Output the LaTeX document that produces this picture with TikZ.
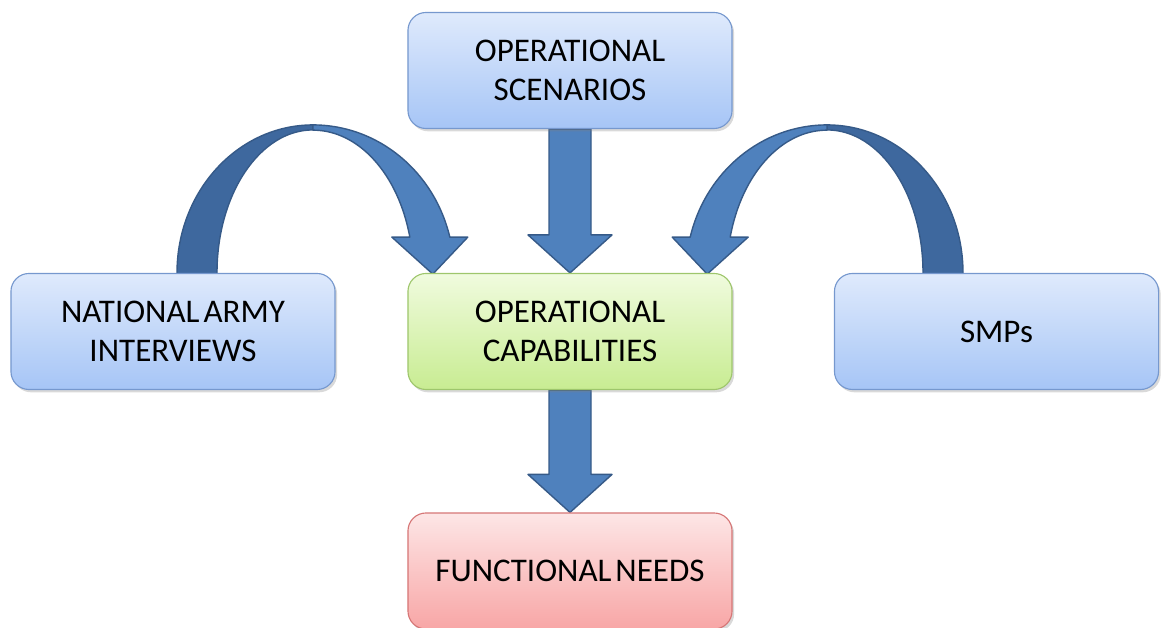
\documentclass[tikz,border=0pt]{standalone}
\usepackage{fontspec}
\setmainfont{Carlito}
\usetikzlibrary{calc, backgrounds, shadows}

\definecolor{blueTop}{RGB}{223,234,252}
\definecolor{blueBot}{RGB}{166,197,246}
\definecolor{blueLine}{RGB}{118,152,206}
\definecolor{greenTop}{RGB}{240,251,222}
\definecolor{greenBot}{RGB}{200,236,146}
\definecolor{greenLine}{RGB}{158,198,108}
\definecolor{redTop}{RGB}{253,230,230}
\definecolor{redBot}{RGB}{248,166,166}
\definecolor{redLine}{RGB}{214,118,118}
\definecolor{arrowFill}{RGB}{79,129,189}
\definecolor{arrowDark}{RGB}{62,104,158}
\definecolor{arrowEdge}{RGB}{54,90,136}

% straight block arrow from the bottom of #1 down to the top of #2
\newcommand{\blockdown}[2]{%
  \draw[arrowline] ($(#1.south)+(-21,0)$) -- ($(#2.north)+(-21,38)$)
    -- ($(#2.north)+(-42,38)$) -- (#2.north) -- ($(#2.north)+(42,38)$)
    -- ($(#2.north)+(21,38)$) -- ($(#1.south)+(21,0)$) -- cycle;}

\begin{document}
\begin{tikzpicture}[x=0.025cm, y=0.025cm,
  box/.style={draw, rounded corners=0.45cm, minimum width=8.1cm, minimum height=2.9cm,
    align=center, inner sep=0pt, line width=0.8pt, font=\fontsize{23.5}{27.5}\selectfont,
    drop shadow={shadow xshift=1.5pt, shadow yshift=-2pt, opacity=0.3}},
  bluebox/.style={box, draw=blueLine, top color=blueTop, bottom color=blueBot},
  greenbox/.style={box, draw=greenLine, top color=greenTop, bottom color=greenBot},
  redbox/.style={box, draw=redLine, top color=redTop, bottom color=redBot},
  arrowline/.style={draw=arrowEdge, line width=1pt, fill=arrowFill, line join=round}]
  \useasboundingbox (0,0) rectangle (1161,628);

  % boxes
  \node[bluebox] (scen) at (570,557.5) {OPERATIONAL\\SCENARIOS};
  \node[bluebox] (army) at (173,296.5) {NATIONAL\hspace{0.12em}ARMY\\INTERVIEWS};
  \node[greenbox] (caps) at (570,296.5) {OPERATIONAL\\CAPABILITIES};
  \node[bluebox] (smps) at (996.5,296.5) {SMPs};
  \node[redbox] (needs) at (570,57) {FUNCTIONAL\hspace{0.12em}NEEDS};

  \begin{scope}[on background layer]
    % straight arrows
    \blockdown{scen}{caps}
    \blockdown{caps}{needs}

    % curved arrow on the left: back half, then front half with head
    \draw[arrowline, fill=arrowDark] ($(army.north)+(4,-8)$) -- ++(0,8)
      arc[start angle=180, end angle=90, x radius=136, y radius=148] -- ++(0,-5)
      arc[start angle=90, end angle=180, x radius=96, y radius=143] -- ++(0,-8) -- cycle;
    \coordinate (ltop) at ($(army.north)+(140,148)$);
    \draw[arrowline] (ltop)
      arc[start angle=90, end angle=14, x radius=141, y radius=148]
      -- ++(18,0) -- ++(-35,-37) -- ++(-41,37) -- ++(18,0)
      arc[start angle=14.6, end angle=90, x radius=100, y radius=143] -- cycle;

    % curved arrow on the right
    \draw[arrowline, fill=arrowDark] ($(smps.north)+(-33.5,-8)$) -- ++(0,8)
      arc[start angle=0, end angle=90, x radius=136, y radius=148] -- ++(0,-5)
      arc[start angle=90, end angle=0, x radius=96, y radius=143] -- ++(0,-8) -- cycle;
    \coordinate (rtop) at ($(smps.north)+(-169.5,148)$);
    \draw[arrowline] (rtop)
      arc[start angle=90, end angle=166, x radius=141, y radius=148]
      -- ++(-18,0) -- ++(35,-37) -- ++(41,37) -- ++(-18,0)
      arc[start angle=165.4, end angle=90, x radius=100, y radius=143] -- cycle;
  \end{scope}
\end{tikzpicture}
\end{document}
